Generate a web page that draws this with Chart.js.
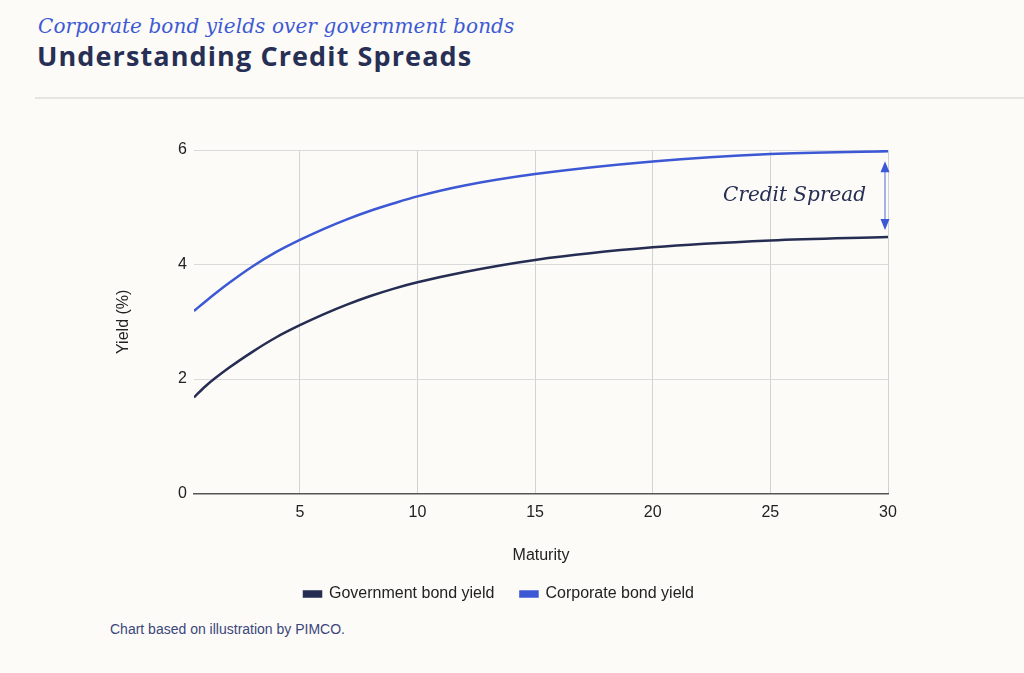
<!DOCTYPE html>
<html>
<head>
<meta charset="utf-8">
<script src="https://cdn.jsdelivr.net/npm/chart.js@4"></script>
<style>
  html, body { margin: 0; padding: 0; background: #fcfbf8; }
  body { width: 1024px; height: 673px; position: relative; overflow: hidden; }
  .sub { position: absolute; left: 38px; top: 16px; line-height: 20px; font-family: "DejaVu Serif", serif; font-style: italic;
         font-size: 20px; letter-spacing: 0.1px; color: #3d5ad3; white-space: nowrap; }
  .title { position: absolute; left: 37px; top: 42px; line-height: 27px; font-family: "Open Sans", sans-serif; font-weight: 700;
           font-size: 27px; letter-spacing: 1.1px; color: #272f55; white-space: nowrap; }
  .rule { position: absolute; left: 35px; right: 0; top: 97px; height: 2px; background: #e6e5e2; }
  .wrap { position: absolute; left: 0; top: 100px; width: 1024px; height: 518px; }
  .note { position: absolute; left: 110px; top: 621px; font-family: "Liberation Sans", Arial, sans-serif; font-size: 14px; color: #3b467a; }
</style>
</head>
<body>
<div class="sub">Corporate bond yields over government bonds</div>
<div class="title">Understanding Credit Spreads</div>
<div class="rule"></div>
<div class="wrap"><canvas id="chart"></canvas></div>
<div class="note">Chart based on illustration by PIMCO.</div>
<script>
const maturity = [0.5, 1, 2, 3, 4, 5, 6, 7, 8, 9, 10, 12, 15, 20, 25, 30];
const govYield = [1.68, 1.88, 2.2, 2.48, 2.73, 2.94, 3.13, 3.3, 3.45, 3.58, 3.69, 3.87, 4.08, 4.3, 4.42, 4.48];
const corpYield = [3.19, 3.36, 3.68, 3.97, 4.22, 4.43, 4.62, 4.79, 4.94, 5.07, 5.19, 5.38, 5.58, 5.8, 5.93, 5.98];
const xTicks = [5, 10, 15, 20, 25, 30];
const yTicks = [0, 2, 4, 6];

const navy = '#252d52';
const blue = '#3c58d4';
const axisFont = {family: '"Liberation Sans", Arial, sans-serif', size: 16};

// arrow + label between the two curves at the long end
const spreadNote = {
    id: 'spreadNote',
    afterDatasetsDraw(chart) {
        const {ctx, scales: {x, y}} = chart;
        const last = maturity.length - 1;
        const ax = x.getPixelForValue(maturity[last]) - 3;
        const top = y.getPixelForValue(corpYield[last]) + 10;
        const bot = y.getPixelForValue(govYield[last]) - 7;
        ctx.save();
        ctx.strokeStyle = '#6a7fe0';
        ctx.lineWidth = 1.2;
        ctx.beginPath();
        ctx.moveTo(ax, top + 8);
        ctx.lineTo(ax, bot - 8);
        ctx.stroke();
        ctx.fillStyle = blue;
        ctx.beginPath();
        ctx.moveTo(ax, top);
        ctx.lineTo(ax - 4.5, top + 11);
        ctx.lineTo(ax + 4.5, top + 11);
        ctx.closePath();
        ctx.fill();
        ctx.beginPath();
        ctx.moveTo(ax, bot);
        ctx.lineTo(ax - 4.5, bot - 11);
        ctx.lineTo(ax + 4.5, bot - 11);
        ctx.closePath();
        ctx.fill();
        ctx.fillStyle = navy;
        ctx.font = 'italic 20px "DejaVu Serif", serif';
        ctx.textAlign = 'right';
        ctx.textBaseline = 'middle';
        ctx.fillText('Credit Spread', ax - 19, (top + bot) / 2);
        ctx.restore();
    }
};

new Chart(document.getElementById('chart'), {
    type: 'line',
    data: {
        datasets: [
            {
                label: 'Government bond yield',
                data: maturity.map((m, i) => ({x: m, y: govYield[i]})),
                borderColor: navy,
                backgroundColor: navy,
                borderWidth: 2.5,
                pointRadius: 0,
                cubicInterpolationMode: 'monotone'
            },
            {
                label: 'Corporate bond yield',
                data: maturity.map((m, i) => ({x: m, y: corpYield[i]})),
                borderColor: blue,
                backgroundColor: blue,
                borderWidth: 2.5,
                pointRadius: 0,
                cubicInterpolationMode: 'monotone'
            }
        ]
    },
    options: {
        responsive: true,
        maintainAspectRatio: false,
        animation: false,
        layout: {
            padding: {left: 110, right: 136, top: 50, bottom: 6}
        },
        scales: {
            x: {
                type: 'linear',
                min: 0.5,
                max: 30,
                afterBuildTicks: (scale) => { scale.ticks = xTicks.map(v => ({value: v})); },
                grid: {color: '#d2d2d2', drawTicks: false},
                border: {color: '#555', width: 1.5},
                ticks: {color: '#222', padding: 9, font: axisFont},
                title: {
                    display: true,
                    text: 'Maturity',
                    color: '#222',
                    font: axisFont,
                    padding: {top: 15, bottom: -5}
                }
            },
            y: {
                min: 0,
                max: 6,
                afterBuildTicks: (scale) => { scale.ticks = yTicks.map(v => ({value: v})); },
                afterFit: (scale) => { scale.width = 84; },
                grid: {color: '#dadada', drawTicks: false},
                border: {display: false},
                ticks: {color: '#222', padding: 7, font: axisFont},
                title: {
                    display: true,
                    text: 'Yield (%)',
                    color: '#222',
                    font: axisFont
                }
            }
        },
        plugins: {
            legend: {
                position: 'bottom',
                labels: {
                    boxWidth: 17,
                    boxHeight: 5,
                    padding: 26,
                    color: '#222',
                    font: axisFont
                }
            },
            tooltip: {enabled: false}
        }
    },
    plugins: [spreadNote]
});
</script>
</body>
</html>
